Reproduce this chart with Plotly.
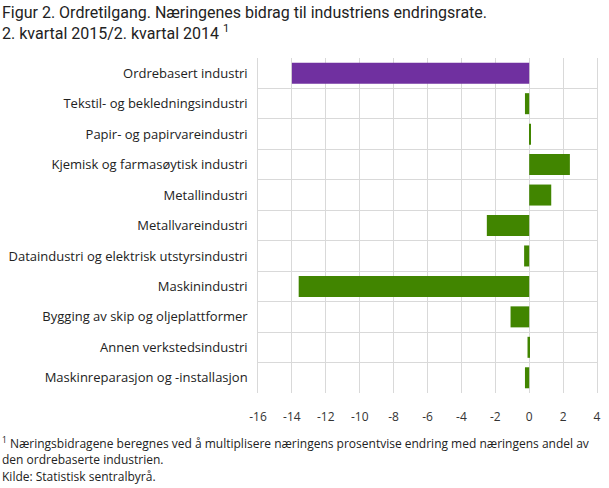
import plotly.graph_objects as go

categories = [
    "Ordrebasert industri",
    "Tekstil- og bekledningsindustri",
    "Papir- og papirvareindustri",
    "Kjemisk og farmasøytisk industri",
    "Metallindustri",
    "Metallvareindustri",
    "Dataindustri og elektrisk utstyrsindustri",
    "Maskinindustri",
    "Bygging av skip og oljeplattformer",
    "Annen verkstedsindustri",
    "Maskinreparasjon og -installasjon",
]
values = [-14.0, -0.25, 0.1, 2.4, 1.3, -2.5, -0.3, -13.6, -1.1, -0.1, -0.25]
bar_colors = ["#7030a0"] + ["#418500"] * 10
x_ticks = [-16, -14, -12, -10, -8, -6, -4, -2, 0, 2, 4]

title_text = ("Figur 2. Ordretilgang. Næringenes bidrag til industriens endringsrate."
              "<br>2. kvartal 2015/2. kvartal 2014 <sup>1</sup>")
note1 = "<sup>1</sup> Næringsbidragene beregnes ved å multiplisere næringens prosentvise endring med næringens andel av"
note2 = "den ordrebaserte industrien."
source = "Kilde: Statistisk sentralbyrå."

W, H = 609, 488
L, R, T, B = 258, 12, 58, 95
pw, ph = W - L - R, H - T - B

def px(x):
    return (x - L) / pw

def py(y):
    return (H - B - y) / ph

fig = go.Figure(go.Bar(
    x=values, y=categories, orientation="h",
    marker=dict(color=bar_colors, line=dict(width=0)),
    width=0.69, hoverinfo="x+y",
))

font = "Open Sans, Liberation Sans, sans-serif"
fig.update_layout(
    width=W, height=H,
    margin=dict(l=L, r=R, t=T, b=B, autoexpand=False),
    plot_bgcolor="white", paper_bgcolor="white",
    showlegend=False,
    font=dict(family=font, size=12, color="#333333"),
    xaxis=dict(
        range=[-16, 4], tickvals=x_ticks, ticktext=[str(v) for v in x_ticks],
        showgrid=True, gridcolor="#d9d9d9", gridwidth=1,
        zeroline=False, showline=False, ticks="", ticklen=0,
        ticklabelstandoff=15, automargin=False,
        tickfont=dict(size=12, color="#333333"),
    ),
    yaxis=dict(
        type="category", autorange="reversed", tickson="boundaries",
        showgrid=True, gridcolor="#d9d9d9", gridwidth=1,
        showline=True, linecolor="#d9d9d9", mirror=True,
        ticks="", ticklen=0, ticksuffix="  ", automargin=False,
        tickfont=dict(size=13, color="#222222"),
    ),
)

ann_font = dict(family=font, color="#222222")
fig.add_annotation(text=title_text, xref="paper", yref="paper",
                   x=px(0), y=py(1), xanchor="left", yanchor="top", align="left",
                   showarrow=False,
                   font=dict(family="Roboto, sans-serif", size=16, color="#222222"))
fig.add_annotation(text=note1, xref="paper", yref="paper",
                   x=px(0), y=py(443), xanchor="left", yanchor="middle", align="left",
                   showarrow=False, font=dict(size=12, **ann_font))
fig.add_annotation(text=note2, xref="paper", yref="paper",
                   x=px(0), y=py(459), xanchor="left", yanchor="middle", align="left",
                   showarrow=False, font=dict(size=12, **ann_font))
fig.add_annotation(text=source, xref="paper", yref="paper",
                   x=px(0), y=py(476), xanchor="left", yanchor="middle", align="left",
                   showarrow=False, font=dict(size=12, **ann_font))

fig.write_html("out.html", config={"displayModeBar": False},
               post_script="document.body.style.margin='0';")
